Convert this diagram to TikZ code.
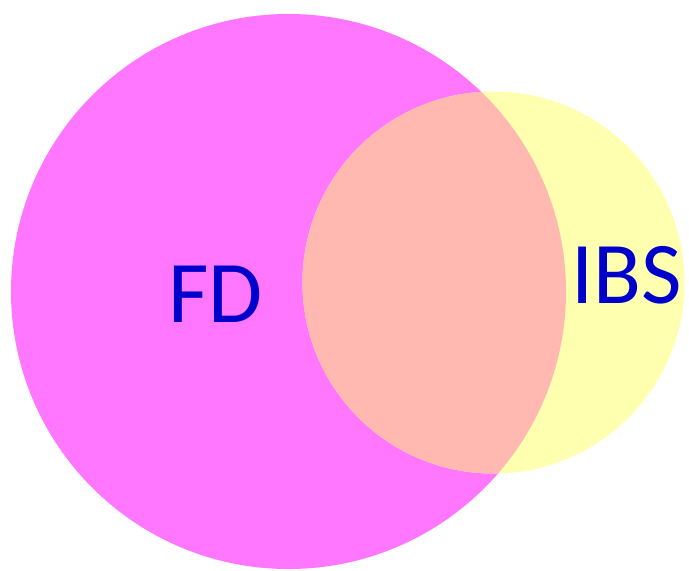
\documentclass[tikz,border=0pt]{standalone}
\usepackage{fontspec}
\setmainfont{Carlito}
\definecolor{fdfill}{RGB}{255,119,255}
\definecolor{ibsfill}{RGB}{255,255,176}
\definecolor{bothfill}{RGB}{255,185,176}
\definecolor{labelblue}{RGB}{0,0,204}
\begin{document}
\begin{tikzpicture}[x=1pt,y=-1pt,
  setlabel/.style={text=labelblue,inner sep=0pt,anchor=base,
    font=\fontsize{88}{90}\selectfont}]
\useasboundingbox (0,0) rectangle (689,571);
% the two sets
\fill[fdfill] (288.5,291.5) circle (277.5);
\fill[ibsfill] (493.5,282.5) circle (191);
% their intersection
\begin{scope}
  \clip (288.5,291.5) circle (277.5);
  \fill[bothfill] (493.5,282.5) circle (191);
\end{scope}
\node[setlabel] (fd) at (215.5,322) {FD};
\node[setlabel] (ibs) at (626.5,303) {IBS};
\end{tikzpicture}
\end{document}
